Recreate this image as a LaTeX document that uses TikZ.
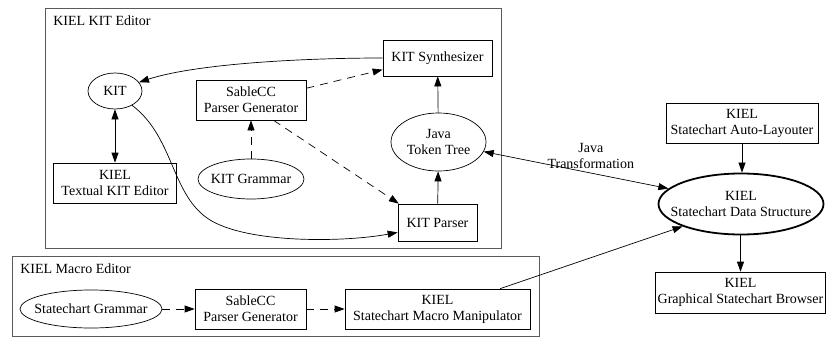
\documentclass[tikz,border=0pt]{standalone}
\usepackage{fontspec}
\setmainfont{Liberation Serif}
\usetikzlibrary{positioning, arrows.meta, calc, shapes.geometric}
\definecolor{cframe}{RGB}{90,90,90}

\begin{document}
\begin{tikzpicture}[x=1pt, y=-1pt, line width=0.7pt,
    font=\fontsize{14}{16}\selectfont,
    >={Triangle[length=10pt, width=7pt]},
    cluster/.style={draw=cframe, line width=0.8pt, inner sep=0pt},
    cltitle/.style={anchor=west, inner sep=0pt},
    box/.style={draw, align=center, inner sep=0pt},
    oval/.style={draw, ellipse, inner sep=0pt},
    gen/.style={->, dash pattern=on 8pt off 6pt}]

  \useasboundingbox (0,0) rectangle (827,337);

  % --- KIEL KIT Editor ---
  \node[cluster, minimum width=456pt, minimum height=240pt] (kiteditor) at (273,128) {};
  \node[cltitle] (kittitle) at (53,21) {KIEL KIT Editor};
  \node[oval, minimum width=54pt, minimum height=36pt, label=center:KIT] (kit) at (115,91) {};
  \node[box, minimum width=123pt, minimum height=40pt] (textual) at (115,183) {KIEL\\Textual KIT Editor};
  \node[box, minimum width=110pt, minimum height=40pt] (sablekit) at (251,100) {SableCC\\Parser Generator};
  \node[oval, minimum width=106pt, minimum height=40pt, label=center:KIT Grammar] (kitgram) at (251,179) {};
  \node[box, minimum width=109pt, minimum height=36pt] (synth) at (437.5,58) {KIT Synthesizer};
  \node[oval, minimum width=95pt, minimum height=58pt,
        label={[align=center]center:Java\\Token Tree}] (tokentree) at (438.5,142) {};
  \node[box, minimum width=79pt, minimum height=37pt] (parser) at (437.5,222.5) {KIT Parser};

  % --- KIEL Macro Editor ---
  \node[cluster, minimum width=527pt, minimum height=80pt] (macroeditor) at (275.5,296.5) {};
  \node[cltitle] (macrotitle) at (20,269) {KIEL Macro Editor};
  \node[oval, minimum width=142pt, minimum height=38pt, label=center:Statechart Grammar] (scgram) at (91,309) {};
  \node[box, minimum width=111pt, minimum height=40pt] (sablemacro) at (250.5,309) {SableCC\\Parser Generator};
  \node[box, minimum width=185pt, minimum height=40pt] (manip) at (437.5,309) {KIEL\\Statechart Macro Manipulator};

  % --- statechart side ---
  \node[box, minimum width=152pt, minimum height=40pt] (autolay) at (742,123) {KIEL\\Statechart Auto-Layouter};
  \node[oval, line width=1.8pt, minimum width=165pt, minimum height=61pt,
        label={[align=center]center:KIEL\\Statechart Data Structure}] (datastruct) at (741,204) {};
  \node[box, minimum width=170pt, minimum height=41pt] (browser) at (740.5,292.5) {KIEL\\Graphical Statechart Browser};

  % --- connectors ---
  \draw[->] (synth.west) .. controls (300,58) and (195,64) .. (kit.20);
  \draw[gen] (sablekit.12) -- (synth.192);
  \draw[gen] (kitgram) -- (sablekit);
  \draw[gen] (sablekit.-42) -- (parser.154);
  \draw[<->] (kit) -- (textual);
  \draw[->] (kit.-40) .. controls (178,140) and (170,205) .. (220,225)
            .. controls (262,243) and (345,242) .. (parser.194);
  \draw[->] (parser) -- (tokentree);
  \draw[->] (tokentree) -- (synth);
  \draw[<->] (tokentree.-12) -- node[pos=0.58, above=1pt, align=center] (jtrans) {Java\\Transformation} (datastruct.168);
  \draw[->] (autolay) -- (autolay |- datastruct.north);
  \draw[->] (datastruct.south -| browser) -- (browser);
  \draw[->] (manip.18) -- (datastruct.201);
  \draw[gen] (scgram) -- (sablemacro);
  \draw[gen] (sablemacro) -- (manip);
\end{tikzpicture}
\end{document}
